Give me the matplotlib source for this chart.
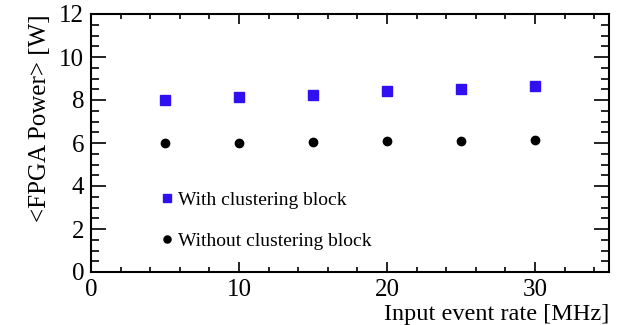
import matplotlib.pyplot as plt
from matplotlib.ticker import MultipleLocator

rate = [5, 10, 15, 20, 25, 30]
power_with = [8.02, 8.12, 8.25, 8.40, 8.52, 8.66]
power_without = [6.01, 6.02, 6.04, 6.07, 6.10, 6.13]

plt.rcParams['font.family'] = ['Liberation Serif', 'DejaVu Serif']

fig = plt.figure(figsize=(6.19, 3.25), dpi=100)
ax = fig.add_axes([91 / 619, 1 - 272 / 325, 518 / 619, 258 / 325])

ax.plot(rate, power_with, 's', color='#3010f0', markersize=6.5, linestyle='none',
        label='With clustering block')
ax.plot(rate, power_without, 'o', color='black', markersize=6, linestyle='none',
        label='Without clustering block')

ax.set_xlim(0, 35)
ax.set_ylim(0, 12)
ax.xaxis.set_major_locator(MultipleLocator(10))
ax.xaxis.set_minor_locator(MultipleLocator(2))
ax.yaxis.set_major_locator(MultipleLocator(2))
ax.yaxis.set_minor_locator(MultipleLocator(0.5))

for s in ax.spines.values():
    s.set_linewidth(1.5)

ax.tick_params(axis='both', which='both', direction='in', top=True, right=True,
               labelsize=18, width=1.2)
ax.tick_params(axis='x', which='major', length=7, pad=5)
ax.tick_params(axis='x', which='minor', length=3.5)
ax.tick_params(axis='y', which='major', length=11, pad=5)
ax.tick_params(axis='y', which='minor', length=5.5)

ax.set_xlabel('Input event rate [MHz]', fontsize=17.5, loc='right', labelpad=2)
ax.set_ylabel('<FPGA Power> [W]', fontsize=18, loc='top', labelpad=6)

ax.legend(loc='lower left', bbox_to_anchor=(0.131, 0.085), frameon=False,
          fontsize=14, handletextpad=0.18, labelspacing=1.2, markerscale=0.85,
          handlelength=0.8, borderpad=0, borderaxespad=0)

fig.savefig('out.png', dpi=100)
